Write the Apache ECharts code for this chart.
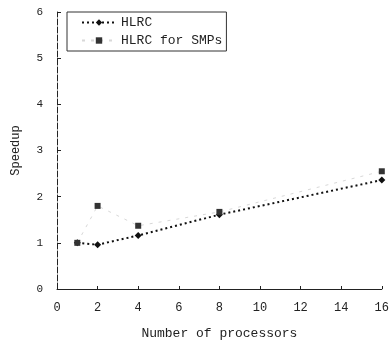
<!DOCTYPE html>
<html>
<head>
<meta charset="utf-8">
<script src="https://cdn.jsdelivr.net/npm/echarts@6/dist/echarts.min.js"></script>
<style>html,body{margin:0;padding:0;background:#fff}#c{width:392px;height:345px}</style>
</head>
<body>
<div id="c"></div>
<script>
var processors = [1, 2, 4, 8, 16];
var hlrc = [1.0, 0.96, 1.16, 1.61, 2.36];
var hlrcSmp = [1.0, 1.80, 1.37, 1.67, 2.55];
var xTicks = [0, 2, 4, 6, 8, 10, 12, 14, 16];
var yTicks = [0, 1, 2, 3, 4, 5, 6];
var seriesNames = ['HLRC', 'HLRC for SMPs'];

function pairs(xs, ys) { return xs.map(function (x, i) { return [x, ys[i]]; }); }

var font = '"Liberation Mono", "DejaVu Sans Mono", monospace';
var chart = echarts.init(document.getElementById('c'), null, { renderer: 'canvas' });
chart.setOption({
  animation: false,
  backgroundColor: '#fff',
  grid: { left: 57, right: 9, top: 12, bottom: 53, containLabel: false },
  legend: {
    left: 67, top: 12, orient: 'vertical',
    data: seriesNames,
    borderColor: '#333', borderWidth: 1,
    padding: [4, 4, 4, 14],
    itemWidth: 34, itemHeight: 8, itemGap: 5,
    textStyle: { fontFamily: font, fontSize: 13, color: '#222' }
  },
  xAxis: {
    type: 'value', min: 0, max: 16, interval: 2,
    name: 'Number of processors', nameLocation: 'middle', nameGap: 38,
    nameTextStyle: { fontFamily: font, fontSize: 13, color: '#222' },
    axisLine: { lineStyle: { color: '#222', width: 1 } },
    axisTick: { inside: true, length: 3, lineStyle: { color: '#222' } },
    axisLabel: { fontFamily: font, fontSize: 12, color: '#222', margin: 13,
      formatter: function (v) { return xTicks.indexOf(v) >= 0 ? String(v) : ''; } },
    splitLine: { show: false }
  },
  yAxis: {
    type: 'value', min: 0, max: 6, interval: 1,
    name: 'Speedup', nameLocation: 'middle', nameGap: 35, nameRotate: 90,
    nameTextStyle: { fontFamily: font, fontSize: 12, color: '#222' },
    axisLine: { show: true, lineStyle: { color: '#222', width: 1, type: [6, 2] } },
    axisTick: { show: true, inside: true, length: 4, lineStyle: { color: '#222' } },
    axisLabel: { fontFamily: font, fontSize: 11, color: '#222', margin: 14,
      formatter: function (v) { return yTicks.indexOf(v) >= 0 ? String(v) : ''; } },
    splitLine: { show: false }
  },
  series: [
    {
      name: seriesNames[0], type: 'line', data: pairs(processors, hlrc),
      symbol: 'diamond', symbolSize: 7,
      itemStyle: { color: '#111' },
      lineStyle: { color: '#111', width: 2, type: [2, 3] },
      z: 3
    },
    {
      name: seriesNames[1], type: 'line', data: pairs(processors, hlrcSmp),
      symbol: 'rect', symbolSize: 6,
      itemStyle: { color: '#333' },
      lineStyle: { color: '#d8d8d8', width: 1, type: [3, 6] },
      z: 4
    }
  ]
});
</script>
</body>
</html>
